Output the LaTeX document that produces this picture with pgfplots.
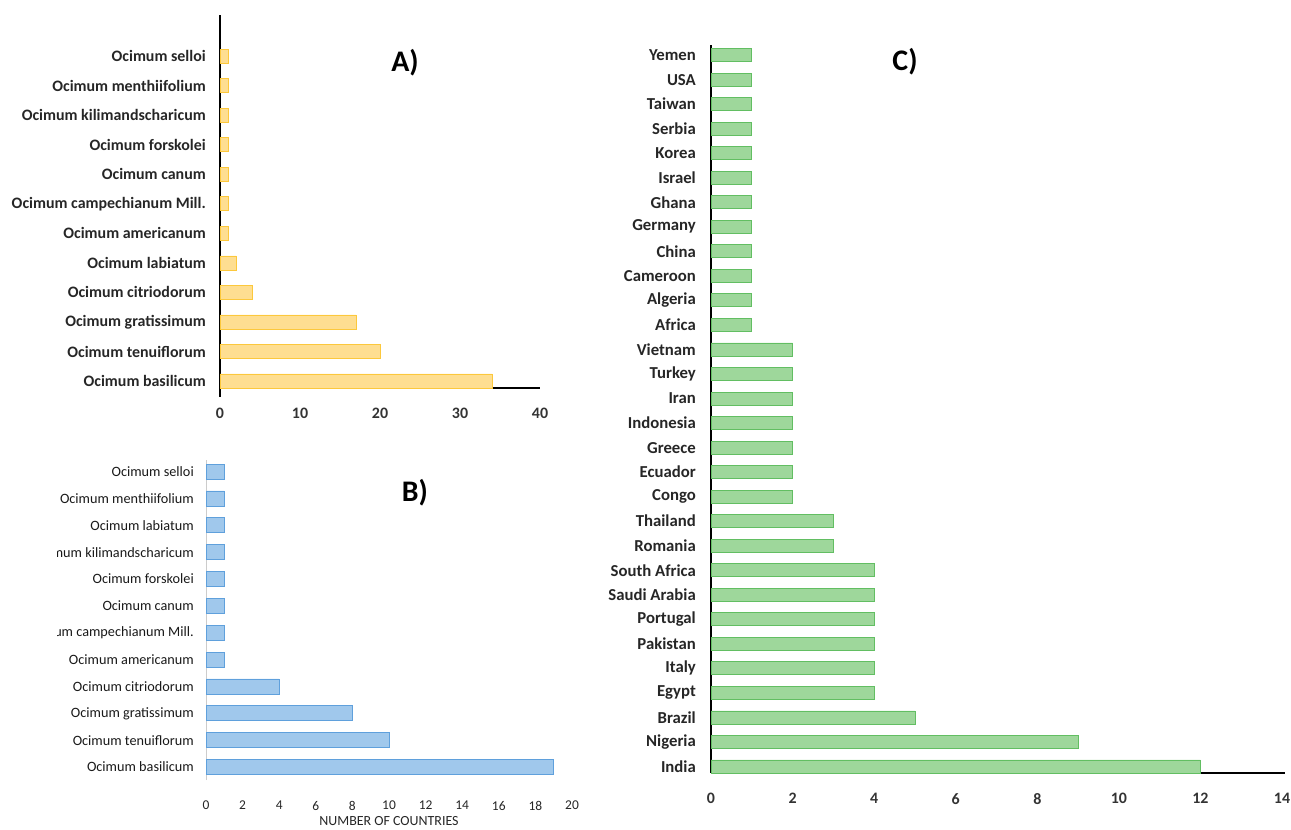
\documentclass[border=0pt]{standalone}
\usepackage{pgfplots}
\pgfplotsset{compat=1.18}
\usepackage{fontspec}
\setmainfont{Carlito}
\definecolor{afill}{RGB}{254,222,145}
\definecolor{adraw}{RGB}{252,200,60}
\definecolor{bfill}{RGB}{160,200,236}
\definecolor{bdraw}{RGB}{95,160,220}
\definecolor{cfill}{RGB}{158,215,155}
\definecolor{cdraw}{RGB}{98,190,98}
\newcommand{\fz}[1]{\fontsize{#1}{#1}\selectfont}
\begin{document}
\begin{tikzpicture}
\useasboundingbox (0,0) rectangle (1291bp,830bp);
\pgfplotsset{every axis/.append style={scale only axis, clip=false,
  /pgf/number format/assume math mode=true, major tick length=0pt,
  enlargelimits=false}}
% ---------- A ----------
\begin{axis}[at={(220bp,442bp)}, anchor=south west, width=320bp, height=373bp,
  xmin=0, xmax=40, ymin=-0.237, ymax=12.4,
  axis lines*=left, axis line style={black, line width=1.4bp},
  y axis line style={shorten <=-9bp},
  xtick={0,10,20,30,40}, ytick={0,...,11},
  yticklabels={Ocimum basilicum, Ocimum tenuiflorum, Ocimum gratissimum, Ocimum citriodorum, Ocimum labiatum, Ocimum americanum, Ocimum campechianum Mill., Ocimum canum, Ocimum forskolei, Ocimum kilimandscharicum, Ocimum menthiifolium, Ocimum selloi},
  yticklabel style={font=\bfseries\fz{16}, inner sep=0pt, xshift=-14bp, text=black!85},
  xticklabel style={font=\bfseries\fz{16}, inner sep=0pt, yshift=-20bp, text=black!80},
  xbar, bar width=14bp]
\addplot[fill=afill, draw=adraw, line width=0.8bp] coordinates {(34,0) (20,1) (17,2) (4,3) (2,4) (1,5) (1,6) (1,7) (1,8) (1,9) (1,10) (1,11)};
\end{axis}
% ---------- B ----------
\begin{axis}[at={(206bp,50bp)}, anchor=south west, width=366bp, height=320bp,
  xmin=0, xmax=20, ymin=-0.48, ymax=11.43,
  axis lines*=left, x axis line style={draw=none}, y axis line style={black!20, line width=1bp},
  xtick={0,2,...,20}, ytick={0,...,11},
  yticklabels={Ocimum basilicum, Ocimum tenuiflorum, Ocimum gratissimum, Ocimum citriodorum, Ocimum americanum, Ocimum campechianum Mill., Ocimum canum, Ocimum forskolei, Ocimum kilimandscharicum, Ocimum labiatum, Ocimum menthiifolium, Ocimum selloi},
  yticklabel style={font=\fz{14.3}, inner sep=0pt, xshift=-12bp, text=black!90},
  xticklabel style={font=\fz{13.5}, inner sep=0pt, yshift=-21bp, text=black!85},
  xlabel={NUMBER OF COUNTRIES}, xlabel style={font=\fz{14}, inner sep=0pt, at={(axis description cs:0.5,0)}, anchor=center, yshift=-41bp, text=black!85},
  xbar, bar width=15bp]
\addplot[fill=bfill, draw=bdraw, line width=0.8bp] coordinates {(19,0) (10,1) (8,2) (4,3) (1,4) (1,5) (1,6) (1,7) (1,8) (1,9) (1,10) (1,11)};
\end{axis}
% the reference cuts the two longest labels of B at the left
\fill[white] (0,188bp) rectangle (57bp,290bp);
% ---------- C ----------
\begin{axis}[at={(711bp,57bp)}, anchor=south west, width=571bp, height=728bp,
  xmin=0, xmax=14, ymin=-0.265, ymax=29.41,
  axis lines*=left, axis line style={black, line width=1.4bp},
  x axis line style={shorten >=-3bp},
  xtick={0,2,...,14}, ytick={0,...,29},
  yticklabels={India, Nigeria, Brazil, Egypt, Italy, Pakistan, Portugal, Saudi Arabia, South Africa, Romania, Thailand, Congo, Ecuador, Greece, Indonesia, Iran, Turkey, Vietnam, Africa, Algeria, Cameroon, China, Germany, Ghana, Israel, Korea, Serbia, Taiwan, USA, Yemen},
  yticklabel style={font=\bfseries\fz{16.8}, inner sep=0pt, xshift=-15bp, text=black!85},
  xticklabel style={font=\bfseries\fz{16}, inner sep=0pt, yshift=-20bp, text=black!80},
  xbar, bar width=13bp]
\addplot[fill=cfill, draw=cdraw, line width=0.8bp] coordinates {(12,0) (9,1) (5,2) (4,3) (4,4) (4,5) (4,6) (4,7) (4,8) (3,9) (3,10) (2,11) (2,12) (2,13) (2,14) (2,15) (2,16) (2,17) (1,18) (1,19) (1,20) (1,21) (1,22) (1,23) (1,24) (1,25) (1,26) (1,27) (1,28) (1,29)};
\end{axis}
\node[font=\bfseries\fz{30}] at (405bp,767bp) {A)};
\node[font=\bfseries\fz{30}] at (415bp,337bp) {B)};
\node[font=\bfseries\fz{30}] at (905bp,768bp) {C)};
\end{tikzpicture}
\end{document}
